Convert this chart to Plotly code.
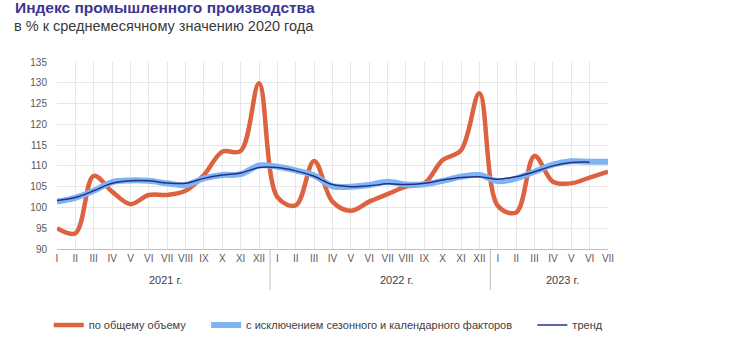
import plotly.graph_objects as go

months = ["I", "II", "III", "IV", "V", "VI", "VII", "VIII", "IX", "X", "XI", "XII",
          "I", "II", "III", "IV", "V", "VI", "VII", "VIII", "IX", "X", "XI", "XII",
          "I", "II", "III", "IV", "V", "VI", "VII"]
years = ["2021 г.", "2022 г.", "2023 г."]

total = [95.0, 93.8, 107.6, 103.8, 100.8, 103.0, 103.0, 104.0, 107.8, 113.4, 113.6, 129.9,
         102.5, 100.5, 111.2, 101.4, 99.2, 101.4, 103.2, 105.0, 105.8, 111.4, 113.8, 127.5,
         100.4, 98.8, 112.4, 106.2, 105.8, 107.2, 108.6]
seasonal = [101.4, 102.3, 104.0, 106.1, 106.5, 106.4, 105.8, 105.4, 107.0, 107.8, 108.0, 110.1,
            109.8, 108.9, 107.7, 105.1, 105.0, 105.4, 106.2, 105.5, 105.6, 106.4, 107.4, 107.8,
            106.3, 107.0, 108.6, 110.3, 111.1, 111.0, 111.0]
trend = [101.7, 102.4, 104.0, 105.8, 106.4, 106.4, 105.9, 105.8, 107.0, 107.8, 108.3, 109.6,
         109.6, 108.8, 107.5, 105.5, 105.0, 105.2, 105.7, 105.5, 105.8, 106.6, 107.2, 107.4,
         106.8, 107.4, 108.6, 110.0, 110.8, 110.9]

yticks = [90, 95, 100, 105, 110, 115, 120, 125, 130, 135]

x = list(range(len(months)))
FONT = "Liberation Sans Narrow, Arial Narrow, Liberation Sans, Arial, sans-serif"
NB = "\u00a0" * 5

W, H = 732, 362
L, T, R, B = 57, 62, 124, 113
PH = H - T - B  # plot height in px
PW = W - L - R

fig = go.Figure()
fig.add_trace(go.Scatter(x=x, y=total, mode="lines", name="по общему объему" + NB,
                         line=dict(color="#DD6340", width=4.5, shape="spline", smoothing=1.0)))
fig.add_trace(go.Scatter(x=x, y=seasonal, mode="lines",
                         name="с исключением сезонного и календарного факторов" + NB,
                         line=dict(color="#7EB4F2", width=6, shape="spline", smoothing=1.0)))
fig.add_trace(go.Scatter(x=x[:len(trend)], y=trend, mode="lines", name="тренд",
                         line=dict(color="#23308A", width=1.5, shape="spline", smoothing=1.0)))

shapes = []
for sep in [11.6, 23.6]:
    shapes.append(dict(type="line", xref="x", yref="paper", x0=sep, x1=sep, y0=0, y1=-41 / PH,
                       line=dict(color="#BFBFBF", width=1)))

annotations = [
    dict(text="<b>Индекс промышленного производства</b>", xref="paper", yref="paper",
         x=(13 - L) / PW, y=1 + (T - 8) / PH, xanchor="left", yanchor="middle",
         showarrow=False, font=dict(family="Liberation Sans, Arial, sans-serif", size=15.5, color="#3D3690")),
    dict(text="в % к среднемесячному значению 2020 года", xref="paper", yref="paper",
         x=(12 - L) / PW, y=1 + (T - 26) / PH, xanchor="left", yanchor="middle",
         showarrow=False, font=dict(family="Liberation Sans, Arial, sans-serif", size=14.5, color="#3A3A3A")),
]
for yr, cx in zip(years, [5.9, 18.5, 27.5]):
    annotations.append(dict(text=yr, xref="x", yref="paper", x=cx, y=-31 / PH,
                            xanchor="center", yanchor="middle", showarrow=False,
                            font=dict(family=FONT, size=11, color="#404040")))

fig.update_layout(
    width=W, height=H,
    margin=dict(l=L, r=R, t=T, b=B),
    paper_bgcolor="white", plot_bgcolor="white",
    showlegend=True,
    legend=dict(orientation="h", x=-0.015, y=-76 / PH, xanchor="left", yanchor="middle",
                font=dict(family=FONT, size=11, color="#404040"), itemwidth=30,
                tracegroupgap=0),
    shapes=shapes,
    annotations=annotations,
    xaxis=dict(range=[0, 30], tickvals=x, ticktext=months, showgrid=True, gridcolor="#E6E6E6",
               gridwidth=1, zeroline=False, showline=True, linecolor="#BFBFBF", ticks="",
               tickfont=dict(family=FONT, size=10, color="#595959")),
    yaxis=dict(range=[90, 135], tickvals=yticks, showgrid=True, gridcolor="#E6E6E6",
               zeroline=False, showline=False, ticks="", ticklabelstandoff=9,
               tickfont=dict(family=FONT, size=10, color="#595959")),
)

fig.write_html("out.html", config={"displayModeBar": False},
               post_script="document.body.style.margin='0';")
